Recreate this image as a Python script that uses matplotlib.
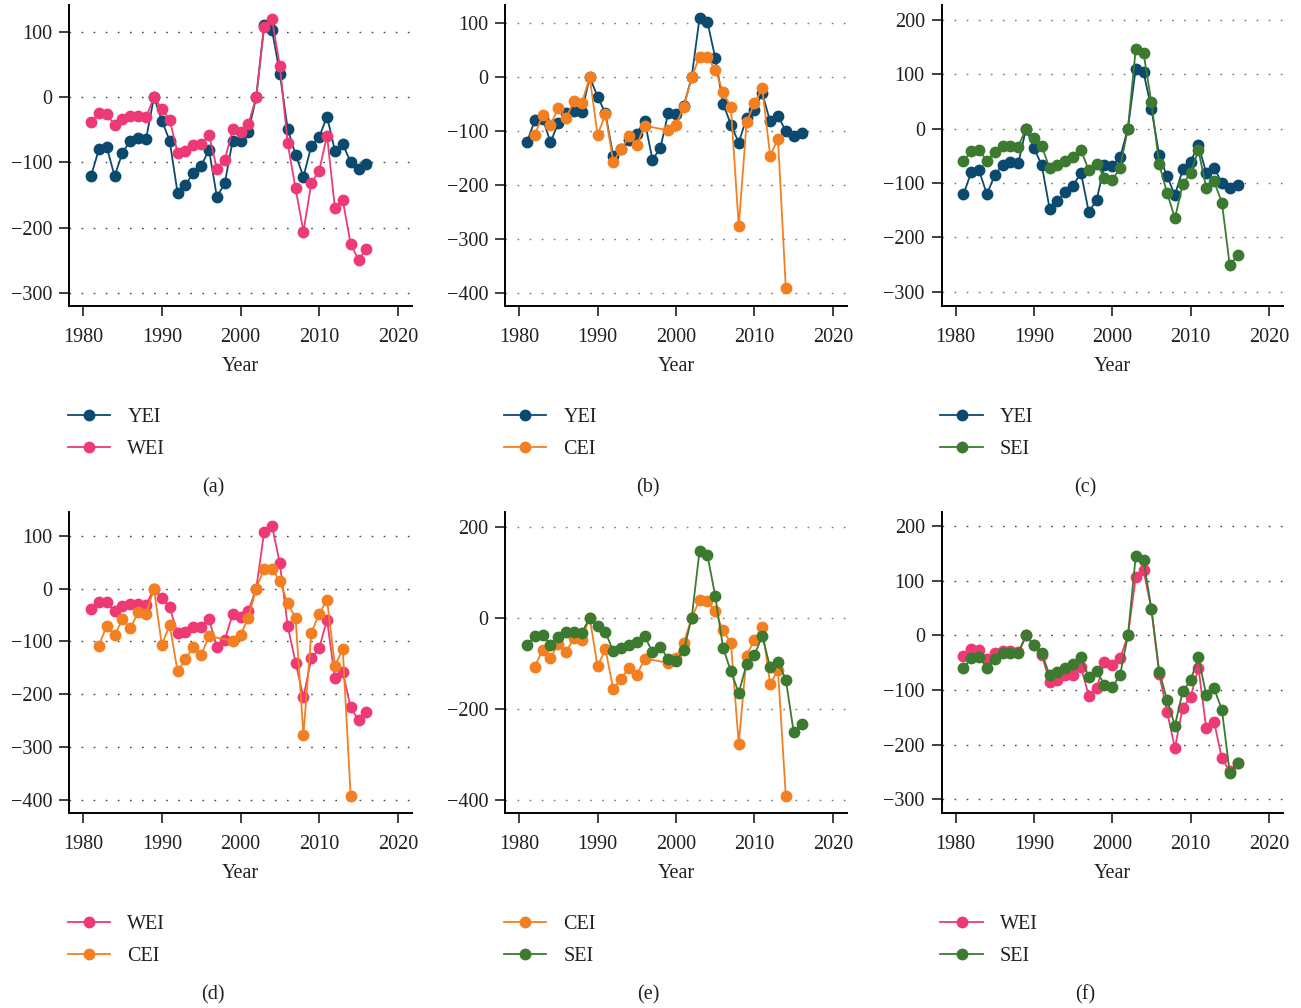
import numpy as np
import matplotlib.pyplot as plt

plt.rcParams['font.family'] = ['Liberation Serif', 'DejaVu Serif']
plt.rcParams['axes.unicode_minus'] = True

years = list(range(1981, 2017))
cei_years = list(range(1982, 1997)) + list(range(1999, 2015))

yei = [-121, -80, -77, -121, -85, -67, -62, -64, 0, -36, -67, -147, -134, -117, -105, -81,
       -153, -132, -67, -68, -53, 0, 110, 103, 36, -49, -88, -122, -75, -61, -30, -82,
       -72, -100, -110, -103]
wei = [-38, -25, -26, -43, -33, -29, -29, -31, 0, -18, -35, -85, -82, -73, -72, -58,
       -110, -97, -49, -54, -42, 0, 107, 119, 48, -71, -140, -206, -132, -113, -59, -170,
       -158, -225, -249, -233]
cei = [-108, -70, -88, -58, -75, -45, -48, 0, -107, -69, -157, -134, -110, -126, -90,
       -99, -88, -55, 0, 38, 37, 14, -28, -56, -277, -84, -48, -21, -146, -115, -392]
sei = [-60, -41, -39, -60, -43, -32, -32, -33, 0, -18, -32, -73, -67, -59, -53, -40,
       -76, -65, -90, -95, -72, 0, 146, 138, 48, -66, -118, -165, -102, -82, -40, -109,
       -97, -136, -251, -233]

series = {
    'YEI': (years, yei, '#0b4a6e'),
    'WEI': (years, wei, '#ee3a74'),
    'CEI': (cei_years, cei, '#f47f20'),
    'SEI': (years, sei, '#3c7a2f'),
}

panels = [
    ('(a)', 'YEI', 'WEI', (-320, 141), [100, 0, -100, -200, -300], '#444444'),
    ('(b)', 'YEI', 'CEI', (-425, 134), [100, 0, -100, -200, -300, -400], '#777777'),
    ('(c)', 'YEI', 'SEI', (-326, 227), [200, 100, 0, -100, -200, -300], '#777777'),
    ('(d)', 'WEI', 'CEI', (-425, 145), [100, 0, -100, -200, -300, -400], '#444444'),
    ('(e)', 'CEI', 'SEI', (-429, 232), [200, 0, -200, -400], '#777777'),
    ('(f)', 'WEI', 'SEI', (-325, 226), [200, 100, 0, -100, -200, -300], '#444444'),
]

W, H = 1301, 1008
fig = plt.figure(figsize=(W / 100, H / 100), dpi=100)

lefts = [69, 505, 941.5]
widths = [343, 342, 341.5]
bottoms = [306, 813]
ax_h = 301
label_x = [213, 648, 1085]
label_y = [488, 995]
fs = 14.5

for i, (tag, s1, s2, ylim, yticks, gcol) in enumerate(panels):
    r, c = divmod(i, 3)
    ax = fig.add_axes([lefts[c] / W, 1 - bottoms[r] / H, widths[c] / W, ax_h / H])
    for name in (s1, s2):
        xs, ys, col = series[name]
        ax.plot(xs, ys, '-o', color=col, lw=1.3, ms=7.5, label=name)
    ax.set_xlim(1978.2, 2021.8)
    ax.set_ylim(*ylim)
    ax.set_xticks([1980, 1990, 2000, 2010, 2020])
    ax.set_yticks(yticks)
    for y in yticks:
        ax.axhline(y, color=gcol, lw=1.0, ls=(0, (1.2, 7.5)), zorder=0)
    for side in ('top', 'right'):
        ax.spines[side].set_visible(False)
    for side in ('left', 'bottom'):
        ax.spines[side].set_linewidth(1.4)
    ax.tick_params(direction='out', length=7, width=1.2, labelsize=fs,
                   colors='#231f20')
    ax.tick_params(axis='x', pad=9)
    ax.tick_params(axis='y', pad=5)
    ax.set_xlabel('Year', fontsize=fs, color='#231f20', labelpad=7)
    ax.legend(loc='upper left', bbox_to_anchor=(-0.003, -0.34), frameon=False,
              fontsize=fs, borderpad=0, borderaxespad=0, handlelength=2.1,
              handletextpad=0.85, labelspacing=0.62, labelcolor='#231f20')
    fig.text(label_x[c] / W, 1 - label_y[r] / H, tag, ha='center', va='center',
             fontsize=fs, color='#231f20')

fig.savefig('out.png', dpi=100)
